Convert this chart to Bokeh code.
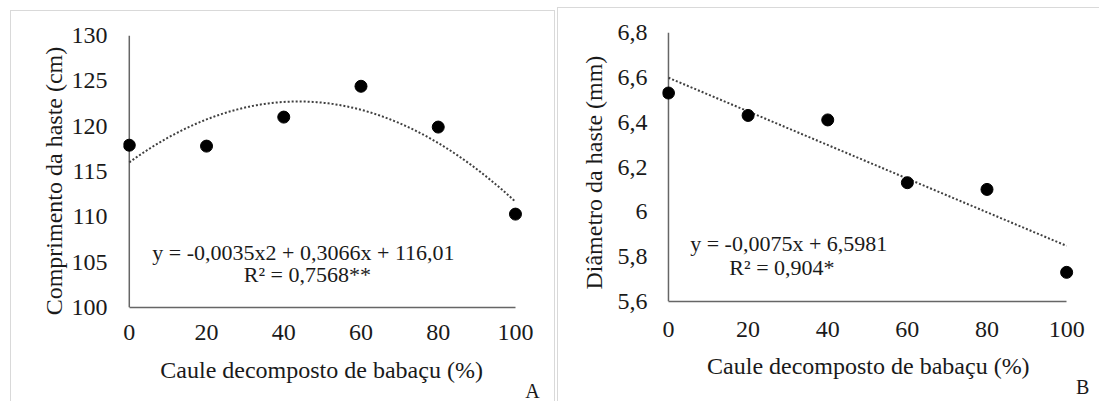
from bokeh.plotting import figure
from bokeh.layouts import row
from bokeh.models import Range1d, FixedTicker, Span, Label, LinearAxis
from bokeh.embed import file_html
from bokeh.resources import INLINE
import numpy as np

# ---- data ----
x_levels = [0, 20, 40, 60, 80, 100]
comprimento = [117.9, 117.8, 121.0, 124.4, 119.9, 110.3]
diametro = [6.53, 6.43, 6.41, 6.13, 6.10, 5.73]

# regression coefficients printed on the chart (highest power first)
coef_a = [-0.0035, 0.3066, 116.01]
coef_b = [-0.0075, 6.5981]

ticks_a = [100, 105, 110, 115, 120, 125, 130]
ticks_b = [5.6, 5.8, 6.0, 6.2, 6.4, 6.6, 6.8]
labels_b = ["5,6", "5,8", "6", "6,2", "6,4", "6,6", "6,8"]
x_ticks = [0, 20, 40, 60, 80, 100]

eq_a = ["y = -0,0035x2 + 0,3066x + 116,01", "R² = 0,7568**"]
eq_b = ["y = -0,0075x + 6,5981", "R² = 0,904*"]

xlabel = "Caule decomposto de babaçu (%)"
ylabel_a = "Comprimento da haste (cm)"
ylabel_b = "Diâmetro da haste (mm)"
panel_tags = ["A", "B"]

FONT = "Liberation Serif"
TXT = "#1a1a1a"
AX = "#666666"
TICK_FS = "24px"
TITLE_FS = "24px"
EQ_FS = "22px"
TAG_FS = "20px"


def text_axis(p, side, value, text, size, standoff, orientation="horizontal"):
    """An invisible extra axis whose single tick label carries a text."""
    ax = LinearAxis(ticker=FixedTicker(ticks=[value]),
                    major_label_overrides={value: text},
                    axis_line_color=None, major_tick_line_color=None,
                    minor_tick_line_color=None, major_tick_out=0,
                    major_tick_in=0, minor_tick_out=0, minor_tick_in=0,
                    major_label_standoff=standoff,
                    major_label_text_font=FONT,
                    major_label_text_font_size=size,
                    major_label_text_color=TXT,
                    major_label_orientation=orientation)
    p.add_layout(ax, side)


def style(p, yticks, x_stand, y_stand, overrides=None):
    p.grid.visible = False
    p.outline_line_color = None
    for ax in (p.xaxis[0], p.yaxis[0]):
        ax.major_tick_line_color = None
        ax.minor_tick_line_color = None
        ax.major_tick_out = 0
        ax.major_tick_in = 0
        ax.minor_tick_out = 0
        ax.minor_tick_in = 0
        ax.major_label_text_font = FONT
        ax.major_label_text_font_size = TICK_FS
        ax.major_label_text_color = TXT
        ax.axis_label = None
    xa = p.xaxis[0]
    xa.ticker = FixedTicker(ticks=x_ticks)
    xa.bounds = (0, 100)
    xa.axis_line_color = AX
    xa.axis_line_width = 1.5
    xa.major_label_standoff = x_stand
    ya = p.yaxis[0]
    ya.ticker = FixedTicker(ticks=yticks)
    ya.axis_line_color = None
    ya.major_label_standoff = y_stand
    if overrides:
        ya.major_label_overrides = overrides
    p.add_layout(Span(location=0, dimension="height", line_color=AX,
                      line_width=1.5, level="underlay"))


SHADOW_A = ("inset 1px 0 0 #d9d9d9, inset -1px 0 0 #d9d9d9, "
            "inset 0 1px 0 #d9d9d9")
SHADOW_B = "inset 1px 0 0 #d9d9d9, inset 0 1px 0 #d9d9d9"

# ---- panel A ----
pA = figure(frame_width=419, frame_height=272, x_range=Range1d(-1.5, 107.0),
            y_range=Range1d(100, 130), output_backend="svg",
            toolbar_location=None, min_border_left=113, min_border_right=13,
            min_border_top=23, min_border_bottom=96,
            border_fill_color=None, background_fill_color=None,
            margin=(10, 0, 0, 10), styles={"box-shadow": SHADOW_A})
style(pA, ticks_a, 17, 16)
text_axis(pA, "below", 49.8, xlabel, TITLE_FS, 14)
text_axis(pA, "below", 104.4, panel_tags[0], TAG_FS, -6)
text_axis(pA, "left", 113.95, ylabel_a, TITLE_FS, 1, "vertical")
xs = np.linspace(0, 100, 201)
pA.line(xs, np.polyval(coef_a, xs), line_color="#404040", line_width=2,
        line_dash="2 2")
pA.scatter(x_levels, comprimento, size=12, color="black")
pA.add_layout(Label(x=45.1, y=106.1, text=eq_a[0], text_align="center",
                    text_baseline="middle", text_font=FONT,
                    text_font_size=EQ_FS, text_color=TXT))
pA.add_layout(Label(x=46.1, y=103.6, text=eq_a[1], text_align="center",
                    text_baseline="middle", text_font=FONT,
                    text_font_size=EQ_FS, text_color=TXT))

# ---- panel B ----
overrides_b = {t: l for t, l in zip(ticks_b, labels_b)}
pB = figure(frame_width=432, frame_height=269, x_range=Range1d(-1.5, 107.0),
            y_range=Range1d(5.6, 6.8), output_backend="svg",
            toolbar_location=None, min_border_left=105, min_border_right=5,
            min_border_top=25, min_border_bottom=100,
            border_fill_color=None, background_fill_color=None,
            margin=(7, 0, 0, 2), styles={"box-shadow": SHADOW_B})
style(pB, ticks_b, 20, 15, overrides_b)
text_axis(pB, "below", 50.2, xlabel, TITLE_FS, 13)
text_axis(pB, "below", 104.0, panel_tags[1], TAG_FS, -6)
text_axis(pB, "left", 6.175, ylabel_b, TITLE_FS, 7, "vertical")
xb = np.array([0, 100])
pB.line(xb, np.polyval(coef_b, xb), line_color="#404040", line_width=2,
        line_dash="2 2")
pB.scatter(x_levels, diametro, size=12, color="black")
pB.add_layout(Label(x=30.2, y=5.859, text=eq_b[0], text_align="center",
                    text_baseline="middle", text_font=FONT,
                    text_font_size=EQ_FS, text_color=TXT))
pB.add_layout(Label(x=28.5, y=5.752, text=eq_b[1], text_align="center",
                    text_baseline="middle", text_font=FONT,
                    text_font_size=EQ_FS, text_color=TXT))

layout = row(pA, pB)
open("out.html", "w").write(file_html(layout, INLINE))
